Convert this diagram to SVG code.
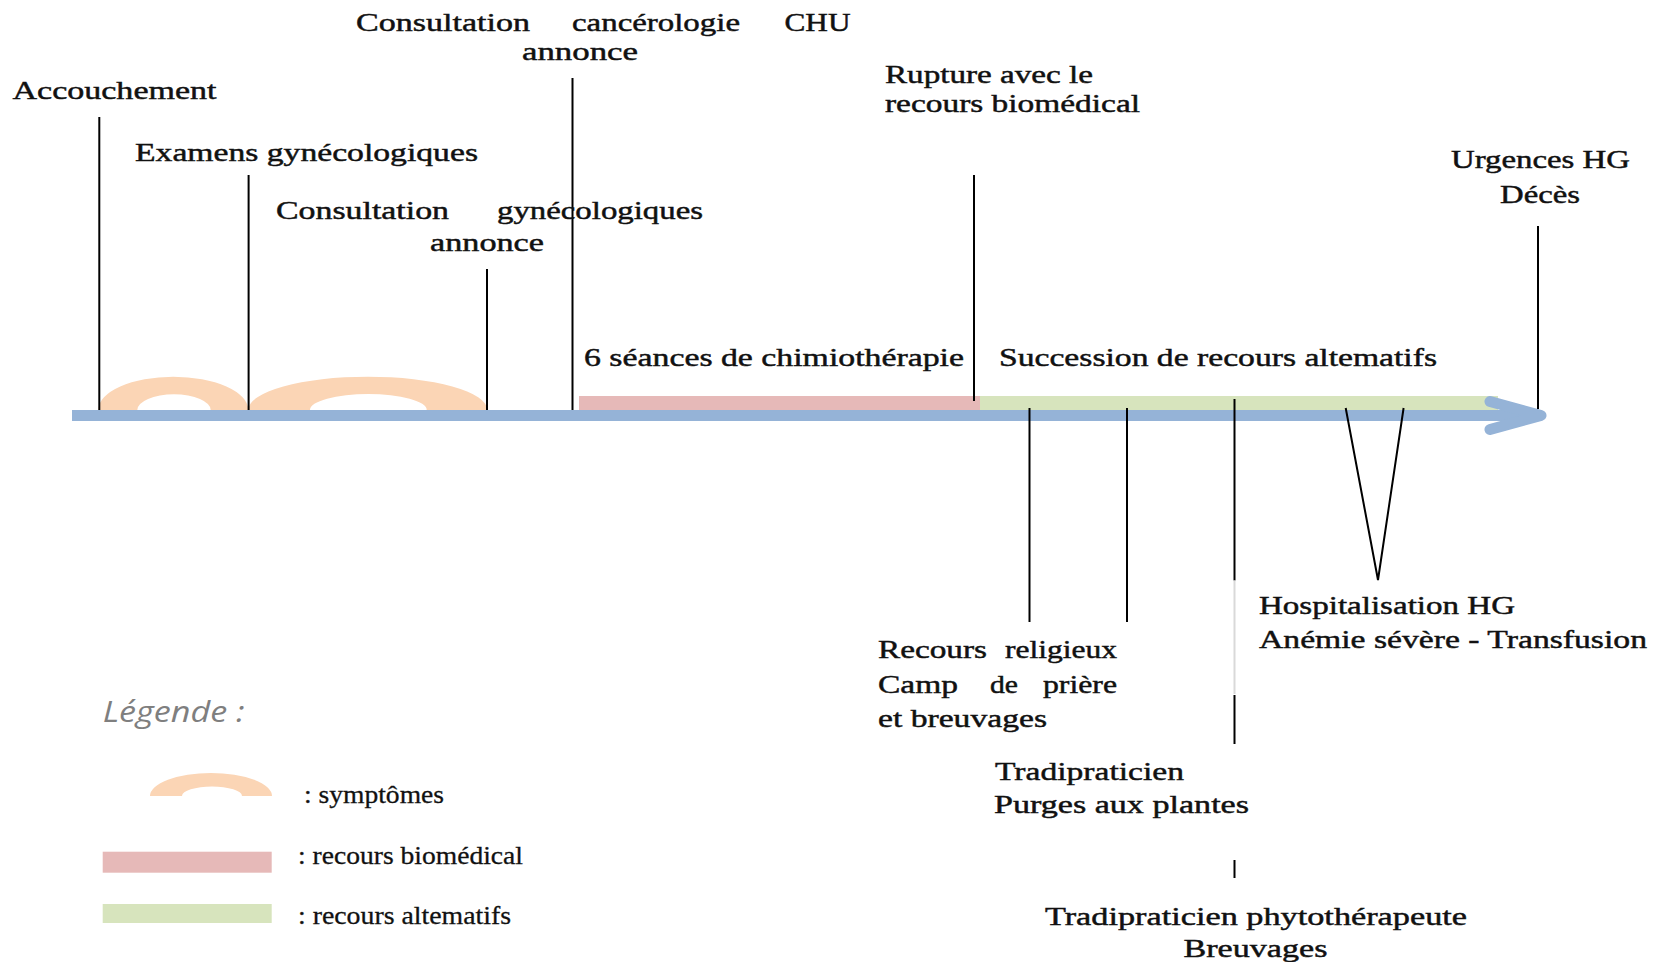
<svg xmlns="http://www.w3.org/2000/svg" width="1667" height="962" viewBox="0 0 1667 962">
<style>
  .t { font-family: "Liberation Serif", "Times New Roman", serif; font-size: 25px; fill: #111; stroke: #111; stroke-width: 0.45px; }
  .lg { font-family: "Liberation Serif", "Times New Roman", serif; font-size: 26px; fill: #111; stroke: #111; stroke-width: 0.3px; }
  .title { font-family: "Open Sans", "Noto Sans", sans-serif; font-style: italic; font-size: 30px; fill: #7f7f7f; }
  .c { stroke: #000; stroke-width: 2; fill: none; }
  .faint { stroke: #d9d9d9; stroke-width: 2; fill: none; }
  .sym { fill: #FBD5B5; }
  .bio { fill: #E6B9B8; }
  .alt { fill: #D7E4BD; }
  .axis { stroke: #95B3D7; stroke-width: 11; fill: none; }
</style>
<rect width="1667" height="962" fill="#fff"/>

<g id="timeline-bars">
  <rect class="bio" x="579" y="396" width="401" height="14"/>
  <rect class="alt" x="980" y="396" width="518" height="14"/>
  <path class="sym" d="M98.3,410 A75,33.3 0 0 1 248.3,410 L210.7,410 A36.7,15.7 0 0 0 137.3,410 Z"/>
  <path class="sym" d="M248.3,410 A119.5,33.3 0 0 1 487.3,410 L426.7,410 A58.3,16 0 0 0 310,410 Z"/>
</g>

<g id="axis">
  <line class="axis" x1="72" y1="415.5" x2="1538" y2="415.5"/>
  <path class="axis" d="M1490,401.5 L1541,415.5 L1490,429.5" stroke-width="13" stroke-linecap="round" stroke-linejoin="round"/>
</g>

<g id="connectors">
  <line class="c" x1="99.3" y1="117" x2="99.3" y2="410"/>
  <line class="c" x1="248.6" y1="175" x2="248.6" y2="410"/>
  <line class="c" x1="487" y1="269" x2="487" y2="410"/>
  <line class="c" x1="572.5" y1="78" x2="572.5" y2="410"/>
  <line class="c" x1="974" y1="175" x2="974" y2="401"/>
  <line class="c" x1="1538" y1="226" x2="1538" y2="409"/>
  <line class="c" x1="1029.5" y1="408" x2="1029.5" y2="622"/>
  <line class="c" x1="1127" y1="408" x2="1127" y2="622"/>
  <line class="c" x1="1234.5" y1="399" x2="1234.5" y2="580.5"/>
  <line class="faint" x1="1234.5" y1="580.5" x2="1234.5" y2="694"/>
  <line class="c" x1="1234.5" y1="695" x2="1234.5" y2="744"/>
  <line class="c" x1="1234.5" y1="860" x2="1234.5" y2="878"/>
  <polyline class="c" points="1345.7,408 1378,580 1403.6,408"/>
</g>

<g id="n-consultation-chu">
  <text class="t" y="30.7"><tspan x="356" textLength="174" lengthAdjust="spacingAndGlyphs">Consultation</tspan><tspan x="572" textLength="168" lengthAdjust="spacingAndGlyphs">cancérologie</tspan><tspan x="784.5" textLength="66" lengthAdjust="spacingAndGlyphs">CHU</tspan></text>
  <text class="t" x="522" y="60" textLength="116" lengthAdjust="spacingAndGlyphs">annonce</text>
</g>
<g id="n-accouchement">
  <text class="t" x="12.5" y="99" textLength="204" lengthAdjust="spacingAndGlyphs">Accouchement</text>
</g>
<g id="n-examens">
  <text class="t" x="135" y="161" textLength="343" lengthAdjust="spacingAndGlyphs">Examens gynécologiques</text>
</g>
<g id="n-consultation-gyn">
  <text class="t" y="219"><tspan x="276" textLength="173" lengthAdjust="spacingAndGlyphs">Consultation</tspan><tspan x="497" textLength="206" lengthAdjust="spacingAndGlyphs">gynécologiques</tspan></text>
  <text class="t" x="430" y="250.7" textLength="114" lengthAdjust="spacingAndGlyphs">annonce</text>
</g>
<g id="n-rupture">
  <text class="t" x="885" y="82.7" textLength="208" lengthAdjust="spacingAndGlyphs">Rupture avec le</text>
  <text class="t" x="885" y="111.7" textLength="255" lengthAdjust="spacingAndGlyphs">recours biomédical</text>
</g>
<g id="n-urgences">
  <text class="t" x="1451" y="168" textLength="179" lengthAdjust="spacingAndGlyphs">Urgences HG</text>
  <text class="t" x="1500" y="202.7" textLength="80" lengthAdjust="spacingAndGlyphs">Décès</text>
</g>
<g id="n-chimio">
  <text class="t" x="584" y="366" textLength="380" lengthAdjust="spacingAndGlyphs">6 séances de chimiothérapie</text>
</g>
<g id="n-succession">
  <text class="t" x="999" y="366" textLength="438" lengthAdjust="spacingAndGlyphs">Succession de recours altematifs</text>
</g>
<g id="n-hospitalisation">
  <text class="t" x="1259" y="614" textLength="256" lengthAdjust="spacingAndGlyphs">Hospitalisation HG</text>
  <text class="t" x="1259" y="647.5" textLength="388" lengthAdjust="spacingAndGlyphs">Anémie sévère - Transfusion</text>
</g>
<g id="n-religieux">
  <text class="t" y="658"><tspan x="878" textLength="109" lengthAdjust="spacingAndGlyphs">Recours</tspan><tspan x="1005" textLength="112" lengthAdjust="spacingAndGlyphs">religieux</tspan></text>
  <text class="t" y="693"><tspan x="878" textLength="80" lengthAdjust="spacingAndGlyphs">Camp</tspan><tspan x="990" textLength="28" lengthAdjust="spacingAndGlyphs">de</tspan><tspan x="1043" textLength="74" lengthAdjust="spacingAndGlyphs">prière</tspan></text>
  <text class="t" x="878" y="726.7" textLength="169" lengthAdjust="spacingAndGlyphs">et breuvages</text>
</g>
<g id="n-tradipraticien">
  <text class="t" x="995" y="780" textLength="189" lengthAdjust="spacingAndGlyphs">Tradipraticien</text>
  <text class="t" x="994" y="813" textLength="255" lengthAdjust="spacingAndGlyphs">Purges aux plantes</text>
</g>
<g id="n-phyto">
  <text class="t" x="1045" y="925" textLength="422" lengthAdjust="spacingAndGlyphs">Tradipraticien phytothérapeute</text>
  <text class="t" x="1183.5" y="957" textLength="144" lengthAdjust="spacingAndGlyphs">Breuvages</text>
</g>

<g id="legend">
  <text class="title" x="102.7" y="721.7" textLength="142" lengthAdjust="spacingAndGlyphs">Légende :</text>
  <path class="sym" d="M150,796 A61,23 0 0 1 272,796 L242,796 A30,9.5 0 0 0 182,796 Z"/>
  <text class="lg" x="304" y="803" textLength="140" lengthAdjust="spacingAndGlyphs">: symptômes</text>
  <rect class="bio" x="102.7" y="851.7" width="169" height="21"/>
  <text class="lg" x="298" y="864" textLength="225" lengthAdjust="spacingAndGlyphs">: recours biomédical</text>
  <rect class="alt" x="102.7" y="904" width="169" height="19"/>
  <text class="lg" x="298" y="924" textLength="213" lengthAdjust="spacingAndGlyphs">: recours altematifs</text>
</g>
</svg>
